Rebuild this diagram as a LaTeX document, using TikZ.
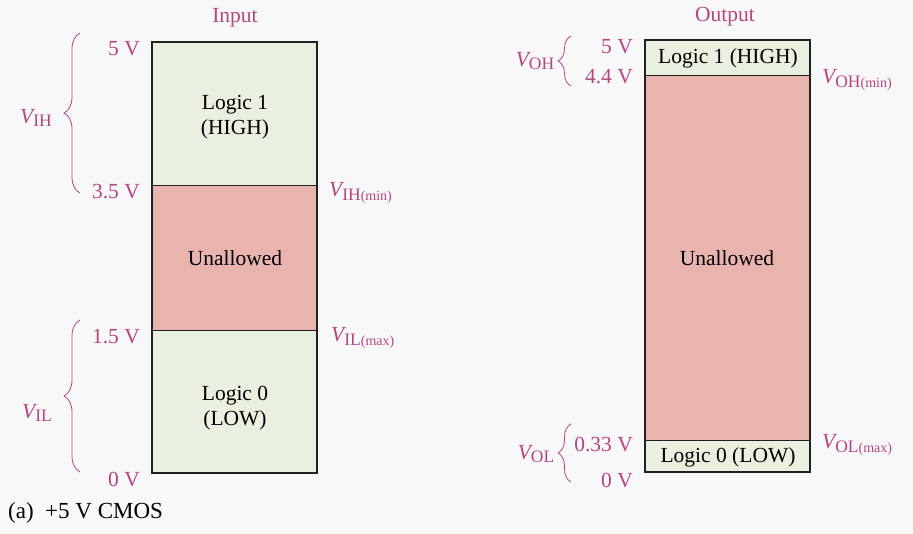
\documentclass[tikz,border=0pt]{standalone}
\usepackage{fontspec}
\setmainfont{Liberation Serif}
\usetikzlibrary{decorations.pathreplacing}
\definecolor{bgc}{HTML}{F8F8F8}
\definecolor{lblc}{HTML}{B5467F}
\definecolor{hic}{HTML}{E9F0DF}
\definecolor{unc}{HTML}{E9B3AE}
\definecolor{edgec}{HTML}{202020}
\newcommand{\vlab}[2]{{\itshape V}\raisebox{-0.35ex}{\fontsize{17.5}{18}\selectfont #1}\raisebox{-0.35ex}{\fontsize{14}{14}\selectfont #2}}
\tikzset{
  lbl/.style={text=lblc,font=\fontsize{21.5}{24}\selectfont,inner sep=1pt},
  zonetxt/.style={text=black,font=\fontsize{21.5}{25}\selectfont,align=center,inner sep=1pt},
  brc/.style={draw=lblc,line width=0.8pt,decorate,decoration={brace,amplitude=#1}},
  boxedge/.style={draw=edgec,line width=2pt},
  divline/.style={draw=edgec,line width=1pt}
}
\begin{document}
\begin{tikzpicture}[x=1pt,y=-1pt]
\useasboundingbox[fill=bgc] (0,0) rectangle (913,534);
% ---------- Input ----------
\fill[hic] (152,42) rectangle (317,186);
\fill[unc] (152,186) rectangle (317,331);
\fill[hic] (152,331) rectangle (317,473);
\draw[divline] (152,186) -- (317,186);
\draw[divline] (152,331) -- (317,331);
\draw[boxedge] (152,42) rectangle (317,473);
\node[lbl] (intitle) at (235,18) {Input};
\node[zonetxt] (inhigh) at (235,117) {Logic 1\\(HIGH)};
\node[zonetxt] (inun) at (235,258) {Unallowed};
\node[zonetxt] (inlow) at (235,408) {Logic 0\\(LOW)};
\node[lbl,anchor=east] (i5) at (141,49) {5 V};
\node[lbl,anchor=east] (i35) at (141,192) {3.5 V};
\node[lbl,anchor=east] (i15) at (141,337) {1.5 V};
\node[lbl,anchor=east] (i0) at (141,480) {0 V};
\node[lbl] (vih) at (36,118) {\vlab{IH}{}};
\node[lbl] (vil) at (37,413) {\vlab{IL}{}};
\node[lbl,anchor=west] (vihmin) at (328,193) {\vlab{IH}{(min)}};
\node[lbl,anchor=west] (vilmax) at (330,338) {\vlab{IL}{(max)}};
\coordinate (bihb) at (80,193);
\coordinate (biht) at (80,33);
\coordinate (bilb) at (80,472);
\coordinate (bilt) at (80,320);
\draw[brc=16pt] (bihb) -- (biht);
\draw[brc=16pt] (bilb) -- (bilt);
\node[text=black,font=\fontsize{23}{25}\selectfont,anchor=west,inner sep=1pt] (caption) at (7,513) {(a)\ \ +5 V CMOS};
% ---------- Output ----------
\fill[hic] (645,40) rectangle (810,76);
\fill[unc] (645,76) rectangle (810,440);
\fill[hic] (645,440) rectangle (810,472);
\draw[divline] (645,76) -- (810,76);
\draw[divline] (645,440) -- (810,440);
\draw[boxedge] (645,40) rectangle (810,472);
\node[lbl] (outtitle) at (725,17) {Output};
\node[zonetxt] (outhigh) at (728,58) {Logic 1 (HIGH)};
\node[zonetxt] (outun) at (727,258) {Unallowed};
\node[zonetxt] (outlow) at (728,457) {Logic 0 (LOW)};
\node[lbl,anchor=east] (o5) at (634,47) {5 V};
\node[lbl,anchor=east] (o44) at (634,77) {4.4 V};
\node[lbl,anchor=east] (o033) at (634,445) {0.33 V};
\node[lbl,anchor=east] (o0) at (634,481) {0 V};
\node[lbl] (voh) at (535,61) {\vlab{OH}{}};
\node[lbl] (vol) at (536,454) {\vlab{OL}{}};
\node[lbl,anchor=west] (vohmin) at (821,80) {\vlab{OH}{(min)}};
\node[lbl,anchor=west] (volmax) at (821,445) {\vlab{OL}{(max)}};
\coordinate (bohb) at (571,86);
\coordinate (boht) at (571,36);
\coordinate (bolb) at (571,482);
\coordinate (bolt) at (571,424);
\draw[brc=13pt] (bohb) -- (boht);
\draw[brc=13pt] (bolb) -- (bolt);
\end{tikzpicture}
\end{document}
